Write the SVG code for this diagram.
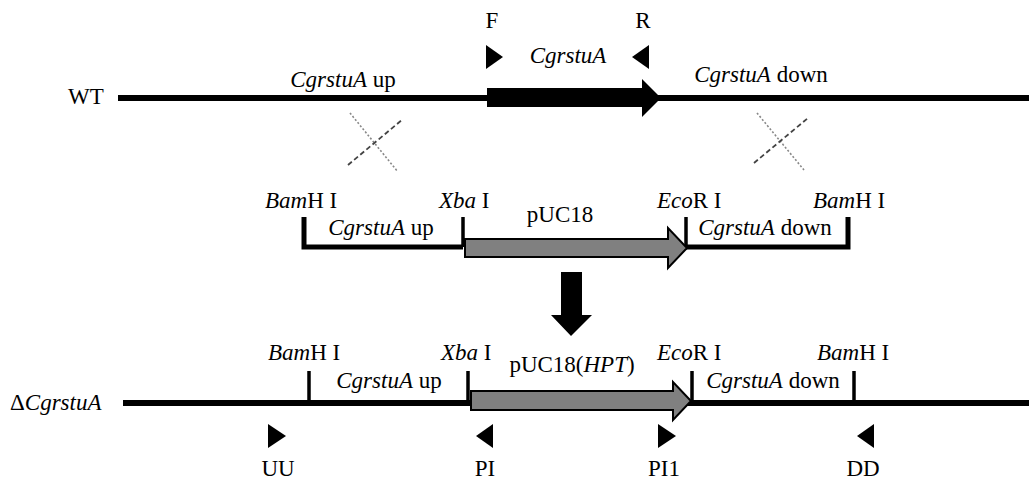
<svg xmlns="http://www.w3.org/2000/svg" width="1029" height="479" viewBox="0 0 1029 479">
<style>
.t{font-family:'Liberation Serif','Times New Roman','DejaVu Serif',serif;font-size:23px;fill:#000}
.i{font-style:italic}
.m{text-anchor:middle}
.line{stroke:#000;stroke-width:6;fill:none}
.br{stroke:#000;stroke-width:5;fill:none}
.tick{stroke:#000;stroke-width:3.5;fill:none}
.gray{fill:#808080;stroke:#000;stroke-width:2}
.tri{fill:#000}
.dot{stroke:#888;stroke-width:1.6;stroke-dasharray:2 2;fill:none}
.dash{stroke:#444;stroke-width:1.8;stroke-dasharray:5 3;fill:none}
</style>
<rect width="1029" height="479" fill="#fff"/>
<g class="t" font-family="Liberation Serif, serif">
<g id="wt">
<text x="68" y="104">WT</text>
<line class="line" x1="118" y1="98" x2="1029" y2="98"/>
<polygon points="487,88 642,88 642,79 661,98 642,117 642,107 487,107" fill="#000"/>
<text class="i m" x="343" y="87">CgrstuA<tspan font-style="normal"> up</tspan></text>
<text class="i m" x="568" y="63">CgrstuA</text>
<text class="i m" x="761" y="82">CgrstuA<tspan font-style="normal"> down</tspan></text>
</g>
<g id="primer-F">
<text class="m" x="492" y="28">F</text>
<polygon class="tri" points="486,45 503,57 486,69"/>
</g>
<g id="primer-R">
<text class="m" x="643" y="28">R</text>
<polygon class="tri" points="649,45 632,57 649,69"/>
</g>
<g id="crossovers">
<line class="dot" x1="350" y1="113" x2="398" y2="172"/>
<line class="dash" x1="348" y1="165" x2="403" y2="119"/>
<line class="dot" x1="757" y1="113" x2="804" y2="170"/>
<line class="dash" x1="754" y1="163" x2="808" y2="118"/>
</g>
<g id="construct">
<text x="265" y="208"><tspan class="i">Bam</tspan>H I</text>
<text x="439" y="208"><tspan class="i">Xba</tspan> I</text>
<text class="m" x="560" y="222">pUC18</text>
<text x="657" y="208"><tspan class="i">Eco</tspan>R I</text>
<text x="813" y="208"><tspan class="i">Bam</tspan>H I</text>
<text class="i m" x="381" y="235">CgrstuA<tspan font-style="normal"> up</tspan></text>
<text class="i m" x="765" y="235">CgrstuA<tspan font-style="normal"> down</tspan></text>
<polyline class="br" points="304,217 304,247 463,247"/>
<line class="tick" x1="463" y1="217" x2="463" y2="247"/>
<polyline class="br" points="686,247 848,247 848,217"/>
<line class="tick" x1="686" y1="217" x2="686" y2="247"/>
<polygon class="gray" points="465,239 668,239 668,228 687,248 668,268 668,257 465,257"/>
</g>
<g id="process-arrow">
<polygon points="561,272 582,272 582,315 592,315 571,336 551,315 561,315" fill="#000"/>
</g>
<g id="mutant">
<text x="10" y="410">Δ<tspan class="i">CgrstuA</tspan></text>
<line class="line" x1="123" y1="403" x2="1029" y2="403"/>
<line class="tick" x1="309" y1="371" x2="309" y2="403"/>
<line class="tick" x1="468" y1="371" x2="468" y2="403"/>
<line class="tick" x1="692" y1="371" x2="692" y2="403"/>
<line class="tick" x1="854" y1="371" x2="854" y2="403"/>
<polygon class="gray" points="471,391 673,391 673,382 691,401 673,420 673,410 471,410"/>
<text x="268" y="360"><tspan class="i">Bam</tspan>H I</text>
<text x="441" y="360"><tspan class="i">Xba</tspan> I</text>
<text class="m" x="572" y="372">pUC18(<tspan class="i">HPT</tspan>)</text>
<text x="657" y="360"><tspan class="i">Eco</tspan>R I</text>
<text x="817" y="360"><tspan class="i">Bam</tspan>H I</text>
<text class="i m" x="389" y="388">CgrstuA<tspan font-style="normal"> up</tspan></text>
<text class="i m" x="773" y="388">CgrstuA<tspan font-style="normal"> down</tspan></text>
</g>
<g id="primer-UU">
<polygon class="tri" points="268,424 286,436 268,448"/>
<text class="m" x="278" y="476">UU</text>
</g>
<g id="primer-PI">
<polygon class="tri" points="493,424 476,436 493,448"/>
<text class="m" x="485" y="476">PI</text>
</g>
<g id="primer-PI1">
<polygon class="tri" points="658,424 676,436 658,448"/>
<text class="m" x="664" y="476">PI1</text>
</g>
<g id="primer-DD">
<polygon class="tri" points="874,424 857,436 874,448"/>
<text class="m" x="863" y="476">DD</text>
</g>
</g>
</svg>
